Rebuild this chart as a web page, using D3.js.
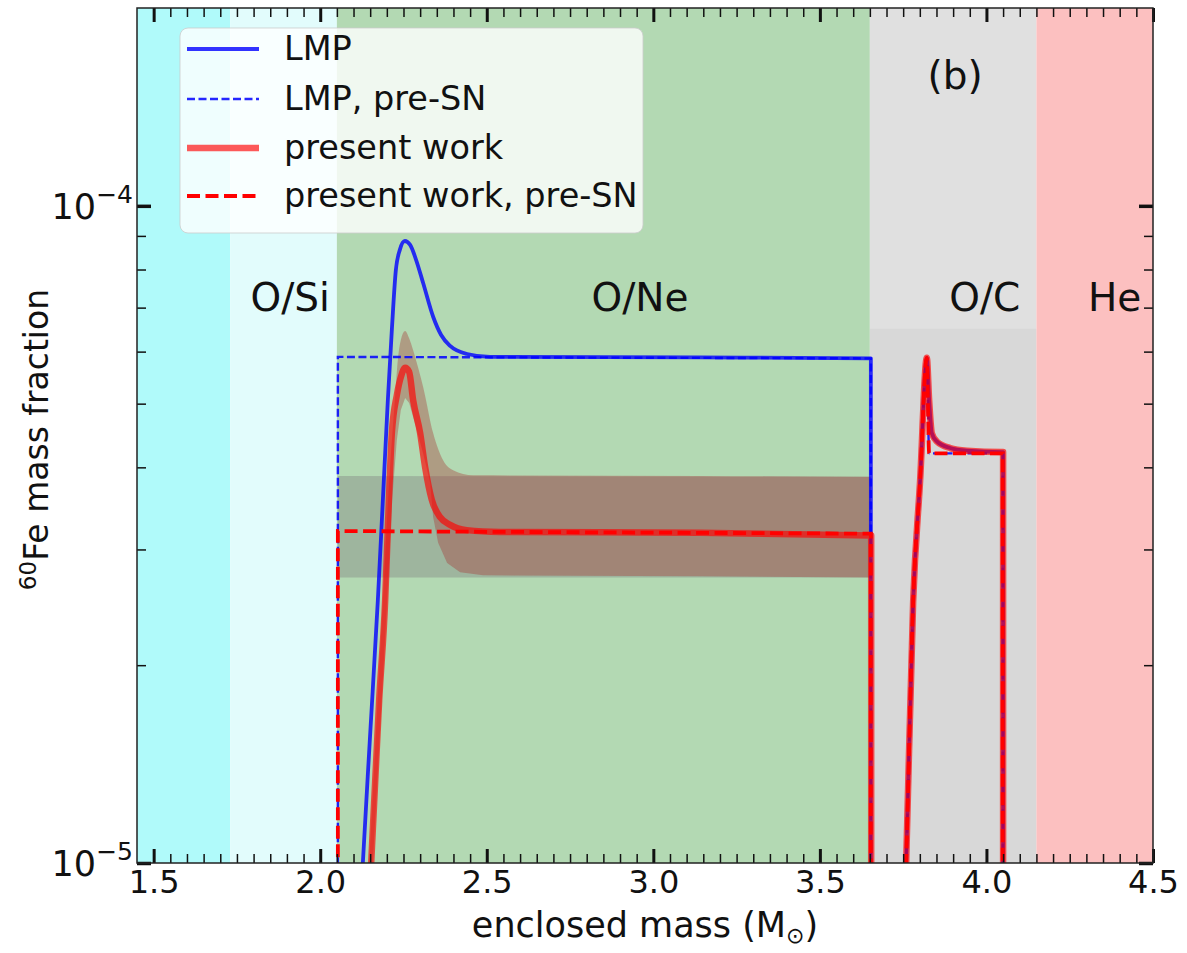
<!DOCTYPE html>
<html><head><meta charset="utf-8">
<script src="https://cdn.jsdelivr.net/npm/d3@7"></script>
<style>
body{margin:0;background:#fff}
text{font-family:"DejaVu Sans",sans-serif;fill:#111}
</style>
</head><body>
<svg id="c" width="1187" height="953"></svg>
<script>
// ---------------- data ----------------
const zoneStart = [1.45, 1.73, 2.05, 3.65, 4.15];
const zoneEnd   = [1.73, 2.05, 3.65, 4.15, 4.5];
const zoneLabels = ["O/Si", "O/Ne", "O/C", "He"];
const zoneLabelX = [1.91, 2.96, 3.995, 4.385];
const panelLabel = "(b)";

// LMP (post-SN)
const lmpX = [2.118, 2.128, 2.149, 2.173, 2.188, 2.203, 2.215, 2.227, 2.239, 2.254, 2.270, 2.288, 2.309, 2.339, 2.363, 2.390, 2.441, 2.510, 3.14, 3.653, 3.653,
              3.74, 3.759, 3.780, 3.801, 3.821, 3.828, 3.836, 3.851, 3.891, 3.941, 4.046, 4.05, 4.05];
const lmpY = [0.8e-5, 1.0e-5, 1.54e-5, 2.51e-5, 3.56e-5, 5.06e-5, 6.47e-5, 7.98e-5, 8.57e-5, 8.84e-5, 8.72e-5, 8.27e-5, 7.63e-5, 6.78e-5, 6.36e-5, 6.12e-5, 5.95e-5, 5.89e-5, 5.88e-5, 5.86e-5, 0.5e-5,
              0.5e-5, 1.0e-5, 2.5e-5, 3.83e-5, 5.87e-5, 5.06e-5, 4.51e-5, 4.38e-5, 4.28e-5, 4.24e-5, 4.22e-5, 4.22e-5, 0.5e-5];
// LMP, pre-SN
const lmpPreX = [2.053, 2.053, 3.653, 3.653, 3.74, 3.759, 3.780, 3.801, 3.821, 3.828, 4.049, 4.049];
const lmpPreY = [0.5e-5, 5.89e-5, 5.86e-5, 0.5e-5, 0.5e-5, 1.0e-5, 2.5e-5, 3.83e-5, 5.87e-5, 4.2e-5, 4.2e-5, 0.5e-5];
// present work (post-SN)
const presX = [2.142, 2.153, 2.177, 2.195, 2.204, 2.215, 2.230, 2.244, 2.255, 2.267, 2.279, 2.300, 2.315, 2.335, 2.360, 2.390, 2.440, 2.540, 3.14, 3.654, 3.654,
               3.74, 3.759, 3.780, 3.801, 3.821, 3.828, 3.836, 3.851, 3.891, 3.941, 4.046, 4.05, 4.05];
const presY = [0.8e-5, 1.0e-5, 1.77e-5, 2.51e-5, 3.33e-5, 4.51e-5, 5.15e-5, 5.53e-5, 5.67e-5, 5.59e-5, 5.06e-5, 4.51e-5, 4.00e-5, 3.57e-5, 3.36e-5, 3.27e-5, 3.21e-5, 3.19e-5, 3.18e-5, 3.15e-5, 0.5e-5,
               0.5e-5, 1.0e-5, 2.5e-5, 3.83e-5, 5.87e-5, 5.06e-5, 4.51e-5, 4.38e-5, 4.28e-5, 4.24e-5, 4.22e-5, 4.22e-5, 0.5e-5];
// present work, pre-SN
const presPreX = [2.053, 2.053, 3.653, 3.653, 3.74, 3.759, 3.780, 3.801, 3.821, 3.828, 4.049, 4.049];
const presPreY = [0.5e-5, 3.2e-5, 3.17e-5, 0.5e-5, 0.5e-5, 1.0e-5, 2.5e-5, 3.83e-5, 5.87e-5, 4.2e-5, 4.2e-5, 0.5e-5];
// uncertainty band, present work
const bandUpX = [2.147, 2.188, 2.209, 2.224, 2.233, 2.242, 2.255, 2.267, 2.279, 2.294, 2.309, 2.339, 2.369, 2.399, 2.459, 3.14, 3.654];
const bandUpY = [1.0e-5, 2.51e-5, 3.96e-5, 5.06e-5, 5.83e-5, 6.25e-5, 6.45e-5, 6.29e-5, 6.03e-5, 5.67e-5, 5.30e-5, 4.51e-5, 4.10e-5, 3.96e-5, 3.89e-5, 3.88e-5, 3.87e-5];
const bandLoX = [2.158, 2.201, 2.216, 2.230, 2.242, 2.255, 2.267, 2.279, 2.309, 2.330, 2.339, 2.354, 2.381, 2.420, 2.489, 3.14, 3.654];
const bandLoY = [1.0e-5, 2.51e-5, 3.57e-5, 4.40e-5, 4.89e-5, 5.10e-5, 5.01e-5, 4.77e-5, 4.20e-5, 3.79e-5, 3.36e-5, 3.07e-5, 2.86e-5, 2.77e-5, 2.74e-5, 2.73e-5, 2.72e-5];
// uncertainty band, present work pre-SN
const preBandX  = [2.053, 3.653];
const preBandLo = [2.72e-5, 2.72e-5];
const preBandHi = [3.88e-5, 3.87e-5];
const ocShadeTop = 6.5e-5;

const xTickValues = [1.5, 2.0, 2.5, 3.0, 3.5, 4.0, 4.5];
const xTickLabels = ["1.5", "2.0", "2.5", "3.0", "3.5", "4.0", "4.5"];
const yTickValues = [1e-5, 1e-4];
const yTickExp = ["\u22125", "\u22124"];
const yMinorValues = [2e-5, 3e-5, 4e-5, 5e-5, 6e-5, 7e-5, 8e-5, 9e-5];
const legendLabels = ["LMP", "LMP, pre-SN", "present work", "present work, pre-SN"];

// ---------------- drawing ----------------
const L = 137, R = 1153, T = 8, B = 863;
const FS_TICK = 32, FS_LEG = 33.5, FS_ZONE = 39, FS_XT = 35, FS_YT = 33;
const x = d3.scaleLinear().domain([1.45, 4.5]).range([L, R]);
const y = d3.scaleLog().domain([1e-5, 2e-4]).range([B, T]);
const svg = d3.select("#c");
svg.append("defs").append("clipPath").attr("id", "clip")
  .append("rect").attr("x", L).attr("y", T).attr("width", R - L).attr("height", B - T);
const plot = svg.append("g").attr("clip-path", "url(#clip)");

const zoneColors = ["#b0fafa", "#e2fcfc", "#b3d9b3", "#e0e0e0", "#fcc0c0"];
plot.selectAll("rect.zone").data(zoneStart).join("rect").attr("class", "zone")
  .attr("x", d => x(d)).attr("width", (d, i) => x(zoneEnd[i]) - x(d))
  .attr("y", T).attr("height", B - T).attr("fill", (d, i) => zoneColors[i]);
plot.append("rect").attr("x", x(3.65)).attr("width", x(4.15) - x(3.65))
  .attr("y", y(ocShadeTop)).attr("height", B - y(ocShadeTop)).attr("fill", "#000").attr("opacity", 0.035);

const pts = (xs, ys) => xs.map((v, i) => [v, ys[i]]);
const line = d3.line().x(d => x(d[0])).y(d => y(d[1]));
const sline = d3.line().x(d => x(d[0])).y(d => y(d[1])).curve(d3.curveMonotoneX);
// smooth runs of increasing x, straight vertical jumps between them
function smoothPath(points) {
  const runs = []; let cur = [points[0]];
  for (let i = 1; i < points.length; i++) {
    if (points[i][0] > points[i - 1][0] + 1e-9) cur.push(points[i]);
    else { runs.push(cur); cur = [points[i]]; }
  }
  runs.push(cur);
  return runs.map((r, k) => { const s = sline(r).replace(/Z/g, ""); return k ? "L" + s.slice(1) : s; }).join("");
}

// pre-SN band
plot.append("path")
  .attr("d", line([...pts(preBandX, preBandHi), ...pts(preBandX, preBandLo).reverse()]) + "Z")
  .attr("fill", "#808080").attr("opacity", 0.4);
// present-work band
plot.append("path")
  .attr("d", smoothPath(pts(bandUpX, bandUpY)) + "L" + smoothPath(pts(bandLoX, bandLoY).reverse()).slice(1) + "Z")
  .attr("fill", "#a52a2a").attr("opacity", 0.35);

plot.append("path").attr("d", smoothPath(pts(lmpX, lmpY))).attr("fill", "none")
  .attr("stroke", "blue").attr("stroke-opacity", 0.8).attr("stroke-width", 3.8).attr("stroke-linejoin", "round");
plot.append("path").attr("d", smoothPath(pts(lmpPreX, lmpPreY))).attr("fill", "none")
  .attr("stroke", "blue").attr("stroke-opacity", 0.85).attr("stroke-width", 2.4).attr("stroke-dasharray", "8,3.5");
plot.append("path").attr("d", smoothPath(pts(presX, presY))).attr("fill", "none")
  .attr("stroke", "red").attr("stroke-opacity", 0.65).attr("stroke-width", 6.5).attr("stroke-linejoin", "round");
plot.append("path").attr("d", smoothPath(pts(presPreX, presPreY))).attr("fill", "none")
  .attr("stroke", "red").attr("stroke-width", 3.8).attr("stroke-dasharray", "13,5.5");

// region labels
svg.selectAll("text.zl").data(zoneLabels).join("text").attr("class", "zl")
  .attr("x", (d, i) => x(zoneLabelX[i])).attr("y", y(7.27e-5) + 14)
  .attr("text-anchor", "middle").attr("font-size", FS_ZONE).text(d => d);
svg.append("text").attr("x", x(3.906)).attr("y", y(1.58e-4) + 14)
  .attr("text-anchor", "middle").attr("font-size", FS_ZONE).text(panelLabel);

// legend
const lg = svg.append("g");
lg.append("rect").attr("x", 180).attr("y", 28).attr("width", 463).attr("height", 205).attr("rx", 8)
  .attr("fill", "#fff").attr("fill-opacity", 0.8).attr("stroke", "#ccc").attr("stroke-opacity", 0.8);
const legStyles = [
  {stroke: "blue", op: 0.8, w: 4, dash: null},
  {stroke: "blue", op: 0.85, w: 2.4, dash: "8,3.5"},
  {stroke: "red", op: 0.65, w: 6.5, dash: null},
  {stroke: "red", op: 1, w: 3.8, dash: "13,5.5"}
];
const rowY = [49, 99, 148, 196];
legendLabels.forEach((lab, i) => {
  const s = legStyles[i];
  lg.append("line").attr("x1", 187).attr("x2", 259).attr("y1", rowY[i]).attr("y2", rowY[i])
    .attr("stroke", s.stroke).attr("stroke-opacity", s.op).attr("stroke-width", s.w)
    .attr("stroke-dasharray", s.dash);
  lg.append("text").attr("x", 284).attr("y", rowY[i] + 11).attr("font-size", FS_LEG).text(lab);
});

// axes
const minorX = d3.range(29, 91).map(v => v / 20).filter(v => v > 1.45 && !xTickValues.some(m => Math.abs(m - v) < 1e-9));
function styleTicks(g, w) {
  g.select(".domain").remove();
  g.selectAll(".tick line").attr("stroke", "#111").attr("stroke-width", w);
}
svg.append("g").attr("transform", `translate(0,${B})`)
  .call(d3.axisBottom(x).tickValues(xTickValues).tickSize(-14).tickPadding(7).tickFormat((d, i) => xTickLabels[i]))
  .call(g => { styleTicks(g, 3); g.selectAll("text").attr("font-size", FS_TICK).attr("font-family", "DejaVu Sans").attr("fill", "#111"); });
svg.append("g").attr("transform", `translate(0,${B})`)
  .call(d3.axisBottom(x).tickValues(minorX).tickSize(-9).tickFormat(""))
  .call(g => styleTicks(g, 1.5));
svg.append("g").attr("transform", `translate(0,${T})`)
  .call(d3.axisTop(x).tickValues(xTickValues).tickSize(-14).tickFormat(""))
  .call(g => styleTicks(g, 3));
svg.append("g").attr("transform", `translate(0,${T})`)
  .call(d3.axisTop(x).tickValues(minorX).tickSize(-9).tickFormat(""))
  .call(g => styleTicks(g, 1.5));
svg.append("g").attr("transform", `translate(${L},0)`)
  .call(d3.axisLeft(y).tickValues(yTickValues).tickSize(-14).tickFormat(""))
  .call(g => styleTicks(g, 3.5));
svg.append("g").attr("transform", `translate(${L},0)`)
  .call(d3.axisLeft(y).tickValues(yMinorValues).tickSize(-9).tickFormat(""))
  .call(g => styleTicks(g, 1.5));
svg.append("g").attr("transform", `translate(${R},0)`)
  .call(d3.axisRight(y).tickValues(yTickValues).tickSize(-14).tickFormat(""))
  .call(g => styleTicks(g, 3.5));
svg.append("g").attr("transform", `translate(${R},0)`)
  .call(d3.axisRight(y).tickValues(yMinorValues).tickSize(-9).tickFormat(""))
  .call(g => styleTicks(g, 1.5));
yTickValues.forEach((v, i) => {
  const t = svg.append("text").attr("x", L - 4).attr("y", y(v) + 13).attr("text-anchor", "end").attr("font-size", 35);
  t.append("tspan").text("10");
  t.append("tspan").attr("dy", -16).attr("font-size", 25).text(yTickExp[i]);
});
svg.append("rect").attr("x", L).attr("y", T).attr("width", R - L).attr("height", B - T)
  .attr("fill", "none").attr("stroke", "#222").attr("stroke-width", 1.5);

// axis titles
const xt = svg.append("text").attr("x", (L + R) / 2).attr("y", 937).attr("text-anchor", "middle").attr("font-size", FS_XT);
xt.append("tspan").text("enclosed mass (M");
xt.append("tspan").attr("dy", 6).attr("font-size", 22).text("\u2299");
xt.append("tspan").attr("dy", -6).text(")");
const yt = svg.append("text").attr("transform", `translate(48,${(T + B) / 2 + 4}) rotate(-90)`)
  .attr("text-anchor", "middle").attr("font-size", FS_YT);
yt.append("tspan").attr("dy", -12).attr("font-size", 23).text("60");
yt.append("tspan").attr("dy", 12).text("Fe mass fraction");
</script>
</body></html>
